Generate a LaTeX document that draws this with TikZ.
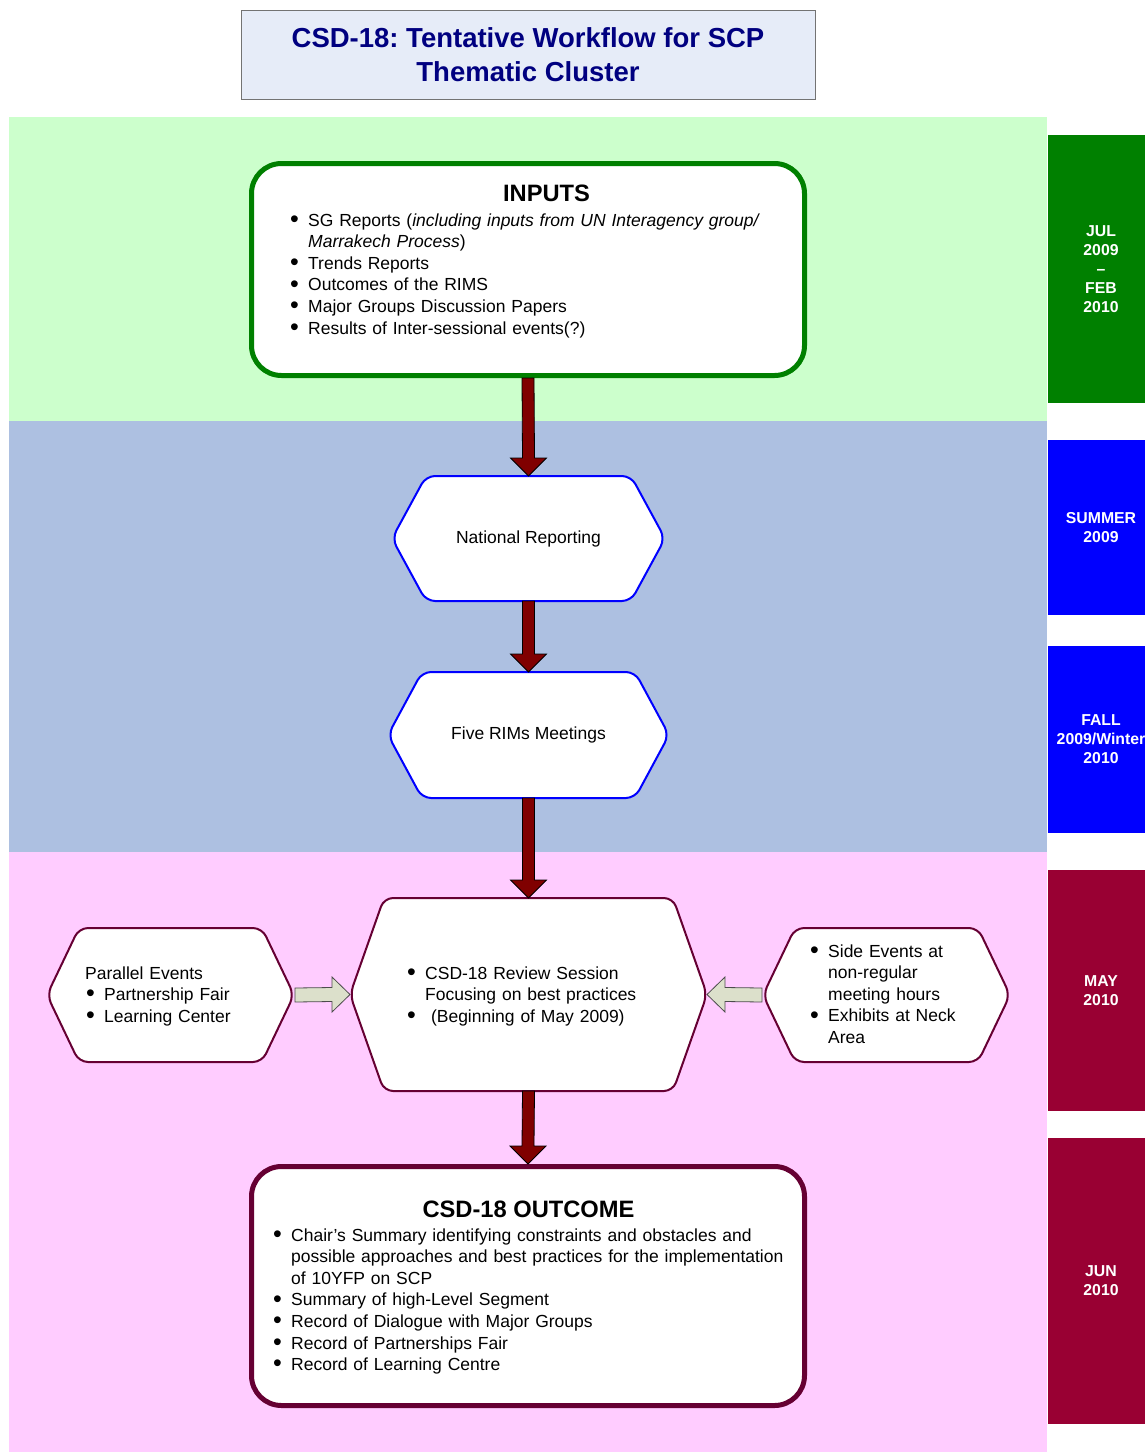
\documentclass[tikz,border=0pt]{standalone}
\usepackage{fontspec}
\setmainfont{Liberation Sans}
\frenchspacing

\definecolor{bandgreen}{HTML}{CCFFCC}
\definecolor{bandblue}{HTML}{ADC0E1}
\definecolor{bandpink}{HTML}{FFCCFF}
\definecolor{titlefill}{HTML}{E6ECF8}
\definecolor{titlenavy}{HTML}{000080}
\definecolor{inpgreen}{HTML}{008000}
\definecolor{hexblue}{HTML}{0000FF}
\definecolor{hexwine}{HTML}{660033}
\definecolor{barwine}{HTML}{990033}
\definecolor{arrowred}{HTML}{800000}
\definecolor{arrowgrey}{HTML}{DCE0CB}

\newcommand\bodyfnt{\fontsize{17.5}{21.6}\selectfont}
\newcommand\headfnt{\fontsize{23.7}{28}\selectfont\bfseries}
\newcommand\titlefnt{\fontsize{27.5}{34}\selectfont\bfseries}
\newcommand\sidefnt{\fontsize{15.8}{19}\selectfont\bfseries}
\newcommand\bul{\makebox[17pt][l]{\hspace*{-1pt}\smash{\raisebox{-1.2pt}{\fontsize{25}{25}\selectfont\textbullet}}}}
\newcommand\bulind{\hspace*{17pt}}

% hexagon outline round an empty node: colour, node, slant
\newcommand\hexframe[3]{%
  \draw[hexline, draw=#1] (#2.north) -- (#2.north east) -- ([xshift=#3]#2.east)
    -- (#2.south east) -- (#2.south west) -- ([xshift=-#3]#2.west)
    -- (#2.north west) -- cycle;}

% fat dark red arrow from one node down to the next
\newcommand\flowarrow[2]{%
  \draw[flowarr] ([xshift=-6pt]#1.south) -- ([xshift=-6pt,yshift=18pt]#2.north)
    -- ([xshift=-18pt,yshift=18pt]#2.north) -- (#2.north)
    -- ([xshift=18pt,yshift=18pt]#2.north) -- ([xshift=6pt,yshift=18pt]#2.north)
    -- ([xshift=6pt]#1.south) -- cycle;}

\tikzset{
  bigbox/.style={draw, line width=5pt, rounded corners=30pt, fill=white,
    minimum width=553pt, inner sep=0pt},
  hexnode/.style={inner sep=0pt, outer sep=0pt},
  hexline/.style={line width=2pt, rounded corners=9pt, fill=white},
  bodytext/.style={inner sep=0pt, font=\bodyfnt, align=center},
  listtext/.style={anchor=base west, inner sep=0pt, font=\bodyfnt, align=left},
  headtext/.style={anchor=base, inner sep=0pt, font=\headfnt},
  sidebar/.style={text=white, font=\sidefnt, align=center, inner sep=0pt,
    outer sep=0pt, minimum width=106pt},
  flowarr/.style={fill=arrowred, draw=black, line width=0.8pt},
  sidearr/.style={fill=arrowgrey, draw=black!70, line width=0.8pt},
}

\begin{document}
\begin{tikzpicture}[x=1pt, y=-1pt]
\useasboundingbox (0,0) rectangle (1144,1452);

% bands
\fill[bandgreen] (9,117) rectangle (1047,421);
\fill[bandblue] (9,421) rectangle (1047,852);
\fill[bandpink] (9,852) rectangle (1047,1452);

% title
\node[draw=black!55, line width=1pt, fill=titlefill, minimum width=574pt,
  minimum height=89pt, text=titlenavy, font=\titlefnt, align=center]
  (title) at (528,54.5) {CSD-18: Tentative Workflow for SCP\\Thematic Cluster};

% time bars
\node[sidebar, fill=inpgreen, minimum height=268pt] (julfeb) at (1101,269)
  {JUL\\2009\\\textendash\\FEB\\2010};
\node[sidebar, fill=hexblue, minimum height=175pt] (summer) at (1101,527.5)
  {SUMMER\\2009};
\node[sidebar, fill=hexblue, minimum height=187pt] (fall) at (1101,739.5)
  {FALL\\2009/Winter\\2010};
\node[sidebar, fill=barwine, minimum height=241pt] (may) at (1101,990.5)
  {MAY\\2010};
\node[sidebar, fill=barwine, minimum height=286pt] (jun) at (1101,1281)
  {JUN\\2010};

% inputs
\node[bigbox, draw=inpgreen, minimum height=212pt] (inputs) at (528,269.5) {};
\node[headtext] (inputshead) at (546.5,201.5) {INPUTS};
\node[listtext, text width=480pt] (inputslist) at (291,226) {%
  \bul SG Reports (\textit{including inputs from UN Interagency group/}\\
  \bulind\textit{Marrakech Process})\\
  \bul Trends Reports\\
  \bul Outcomes of the RIMS\\
  \bul Major Groups Discussion Papers\\
  \bul Results of Inter-sessional events(?)};

% national reporting
\node[hexnode, minimum width=205pt, minimum height=125pt] (natrep) at (528.5,538.5) {};
\hexframe{hexblue}{natrep}{34pt}
\node[bodytext] (natreptext) at (natrep) {National Reporting};

% five rims
\node[hexnode, minimum width=213pt, minimum height=126pt] (rims) at (528.5,735) {};
\hexframe{hexblue}{rims}{34pt}
\node[bodytext] (rimstext) at (rims) {Five RIMs Meetings};

% review session
\node[hexnode, minimum width=289pt, minimum height=193pt] (review) at (528.5,994.5) {};
\hexframe{hexwine}{review}{34pt}
\node[listtext, text width=280pt] (reviewtext) at (408,979) {%
  \bul CSD-18 Review Session\\
  \bulind Focusing on best practices\\
  \bul\ (Beginning of May 2009)};

% parallel events
\node[hexnode, minimum width=183pt, minimum height=134pt] (parallel) at (170.5,995) {};
\hexframe{hexwine}{parallel}{32pt}
\node[listtext, text width=190pt] (paralleltext) at (85,979) {%
  Parallel Events\\
  \hspace*{2pt}\bul Partnership Fair\\
  \hspace*{2pt}\bul Learning Center};

% side events
\node[hexnode, minimum width=183pt, minimum height=134pt] (side) at (886.5,995) {};
\hexframe{hexwine}{side}{32pt}
\node[listtext, text width=180pt] (sidetext) at (811,957) {%
  \bul Side Events at\\
  \bulind non-regular\\
  \bulind meeting hours\\
  \bul Exhibits at Neck\\
  \bulind Area};

% outcome
\node[bigbox, draw=hexwine, minimum height=239pt] (outcome) at (528,1286) {};
\node[headtext] (outcomehead) at (528.5,1217.5) {CSD-18 OUTCOME};
\node[listtext, text width=525pt] (outcomelist) at (274,1241) {%
  \bul Chair’s Summary identifying constraints and obstacles and\\
  \bulind possible approaches and best practices for the implementation\\
  \bulind of 10YFP on SCP\\
  \bul Summary of high-Level Segment\\
  \bul Record of Dialogue with Major Groups\\
  \bul Record of Partnerships Fair\\
  \bul Record of Learning Centre};

% flow
\flowarrow{inputs}{natrep}
\flowarrow{natrep}{rims}
\flowarrow{rims}{review}
\flowarrow{review}{outcome}

% side arrows
\coordinate (ptip) at ([xshift=33pt]parallel.east);
\coordinate (stip) at ([xshift=-33pt]side.west);
\coordinate (rwest) at ([xshift=-34pt]review.west);
\coordinate (reast) at ([xshift=34pt]review.east);
\draw[sidearr] ([yshift=7pt]ptip) -- ([xshift=-18pt,yshift=7pt]rwest)
  -- ([xshift=-18pt,yshift=17.5pt]rwest) -- (rwest)
  -- ([xshift=-18pt,yshift=-17.5pt]rwest) -- ([xshift=-18pt,yshift=-7pt]rwest)
  -- ([yshift=-7pt]ptip) -- cycle;
\draw[sidearr] ([yshift=7pt]stip) -- ([xshift=18pt,yshift=7pt]reast)
  -- ([xshift=18pt,yshift=17.5pt]reast) -- (reast)
  -- ([xshift=18pt,yshift=-17.5pt]reast) -- ([xshift=18pt,yshift=-7pt]reast)
  -- ([yshift=-7pt]stip) -- cycle;
\end{tikzpicture}
\end{document}
